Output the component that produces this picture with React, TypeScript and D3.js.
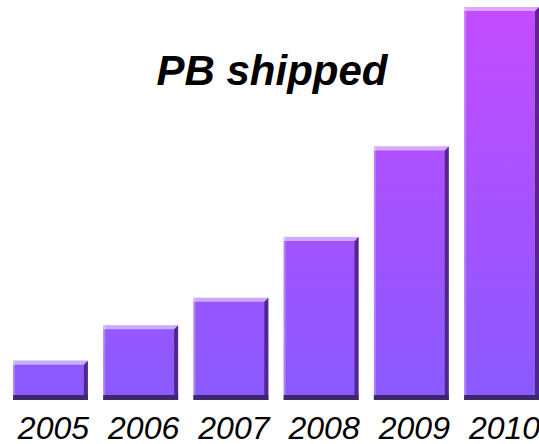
import React from "react";
import * as d3 from "d3";

const years = ["2005", "2006", "2007", "2008", "2009", "2010"];
const shipped = [1.0, 1.9, 2.6, 4.15, 6.45, 10];
const chartTitle = "PB shipped";

const W = 539;
const H = 444;
const margin = {top: 7, right: 0, bottom: 44, left: 13};

const App: React.FC = () => {
	const x = d3
		.scaleBand<string>()
		.domain(years)
		.range([margin.left, W - margin.right])
		.paddingInner(0.17)
		.paddingOuter(0);

	const y = d3
		.scaleLinear()
		.domain([0, 10])
		.range([H - margin.bottom, margin.top]);

	const bw = x.bandwidth();
	const base = y(0);

	return (
		<svg
			width={W}
			height={H}
			style={{position: "absolute", left: 0, top: 0}}
			fontFamily="'Liberation Sans', Arial, Helvetica, sans-serif"
		>
			<defs>
				<linearGradient
					id="barFill"
					gradientUnits="userSpaceOnUse"
					x1={0}
					x2={0}
					y1={y(10)}
					y2={base}
				>
					<stop offset="0%" stopColor="#c24cff" />
					<stop offset="100%" stopColor="#8a5aff" />
				</linearGradient>
			</defs>

			{years.map((yr, i) => {
				const x0 = x(yr) as number;
				const top = y(shipped[i]);
				const h = base - top;
				return (
					<g key={yr}>
						<rect x={x0} y={top} width={bw} height={h} fill="url(#barFill)" />
						{/* left light edge */}
						<rect x={x0} y={top} width={2} height={h} fill="#fff" opacity={0.25} />
						{/* right dark edge */}
						<polygon
							points={`${x0 + bw - 4},${top + 4} ${x0 + bw},${top} ${x0 + bw},${base} ${x0 + bw - 4},${base}`}
							fill="#1a0030"
							opacity={0.55}
						/>
						{/* top highlight */}
						<polygon
							points={`${x0},${top} ${x0 + bw},${top} ${x0 + bw - 4},${top + 4} ${x0},${top + 4}`}
							fill="#fff"
							opacity={0.5}
						/>
						{/* bottom shadow */}
						<rect x={x0} y={base - 5} width={bw} height={5} fill="#3d286e" />
					</g>
				);
			})}

			{years.map((yr) => (
				<text
					key={yr}
					x={(x(yr) as number) + bw / 2 + 3}
					y={439}
					textAnchor="middle"
					fontSize={32}
					fontStyle="italic"
					fill="#000"
				>
					{yr}
				</text>
			))}

			<text
				x={272}
				y={85}
				textAnchor="middle"
				fontSize={42}
				fontWeight="bold"
				fontStyle="italic"
				fill="#000"
			>
				{chartTitle}
			</text>
		</svg>
	);
};

export default App;
